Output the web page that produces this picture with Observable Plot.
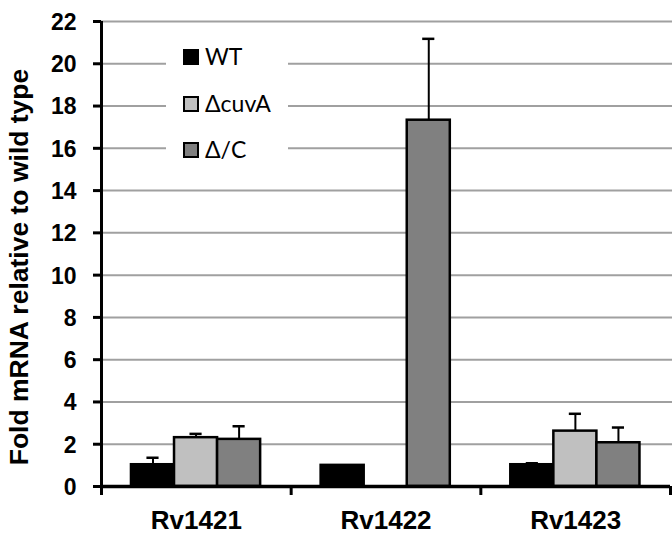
<!DOCTYPE html>
<html>
<head>
<meta charset="utf-8">
<script src="https://cdn.jsdelivr.net/npm/d3@7"></script>
<script src="https://cdn.jsdelivr.net/npm/@observablehq/plot@0.6"></script>
<style>
  html, body { margin: 0; padding: 0; background: #fff; }
  #wrap { position: relative; width: 672px; height: 534px; }
  #legend { position: absolute; left: 166px; top: 40px; width: 122px; height: 130px; background: #fff;
            font-family: Lato, "Open Sans", sans-serif; font-size: 23px; color: #000; }
  .item { position: absolute; left: 17px; height: 16px; }
  .sw { position: absolute; left: 0; top: 0; width: 16px; height: 16px; box-sizing: border-box; border: 2px solid #000; }
  .lab { position: absolute; left: 22px; top: -9px; white-space: nowrap; line-height: 32px; }
</style>
</head>
<body>
<div id="wrap"><div id="chart"></div><div id="legend"></div></div>
<script>
const genes = ["Rv1421", "Rv1422", "Rv1423"];
const seriesNames = ["WT", "\u0394cuvA", "\u0394/C"];
const seriesColors = ["#000000", "#c0c0c0", "#808080"];
const wtValues = [1.03, 1.0, 1.03];
const wtErrors = [0.33, 0, 0.07];
const cuvAValues = [2.31, null, 2.62];
const cuvAErrors = [0.18, null, 0.82];
const dcValues = [2.23, 17.33, 2.07];
const dcErrors = [0.62, 3.85, 0.72];
const yTicks = [0, 2, 4, 6, 8, 10, 12, 14, 16, 18, 20, 22];
const yTitle = "Fold mRNA relative to wild type";

const values = [wtValues, cuvAValues, dcValues];
const errors = [wtErrors, cuvAErrors, dcErrors];

// layout constants (fractions of a category band)
const OUTER = 0.158, BW = 0.227, CAP = 0.032;

const rows = [];
genes.forEach((g, gi) => {
  seriesNames.forEach((s, si) => {
    const v = values[si][gi];
    if (v == null) return;
    const x1 = gi + OUTER + si * BW;
    rows.push({gene: g, series: s, value: v, err: errors[si][gi], x1, x2: x1 + BW, xc: x1 + BW / 2});
  });
});
const errRows = rows.filter(d => d.err > 0);

const chart = Plot.plot({
  width: 672,
  height: 534,
  marginLeft: 101,
  marginRight: 2,
  marginTop: 21,
  marginBottom: 48,
  style: {background: "#fff", fontFamily: "'Liberation Sans', Arial, sans-serif", color: "#000", overflow: "visible"},
  x: {domain: [0, genes.length], axis: null},
  y: {domain: [0, 22], axis: null},
  color: {domain: seriesNames, range: seriesColors},
  marks: [
    Plot.ruleY(yTicks.filter(t => t > 0), {stroke: "#a0a0a0", strokeWidth: 2, insetRight: -2}),
    Plot.ruleX(errRows, {x: "xc", y1: "value", y2: d => d.value + d.err, stroke: "#000", strokeWidth: 2}),
    Plot.ruleY(errRows, {x1: d => d.xc - CAP, x2: d => d.xc + CAP, y: d => d.value + d.err, stroke: "#000", strokeWidth: 2.5}),
    Plot.rectY(rows, {x1: "x1", x2: "x2", y1: 0, y2: "value", fill: "series", stroke: "#000", strokeWidth: 2.5}),
    Plot.ruleX([0], {stroke: "#000", strokeWidth: 3}),
    Plot.ruleY([0], {stroke: "#000", strokeWidth: 3.5}),
    Plot.axisY({ticks: yTicks, tickSize: 8, strokeWidth: 3, tickFormat: () => "", label: null}),
    Plot.text(yTicks, {y: d => d, text: d => String(d), frameAnchor: "left", textAnchor: "end", lineAnchor: "middle",
                       dx: -25, dy: 1, fontSize: 23, fontWeight: "bold"}),
    Plot.axisX({ticks: d3.range(genes.length + 1), tickSize: 9, strokeWidth: 3, tickFormat: () => "", label: null}),
    Plot.axisX({ticks: genes.map((g, i) => i + 0.5), tickSize: 0, tickPadding: 24, fontSize: 26, fontWeight: "bold",
                tickFormat: v => genes[Math.floor(v)], label: null}),
    Plot.text([yTitle], {text: d => d, frameAnchor: "left", textAnchor: "middle", lineAnchor: "middle", rotate: -90, dx: -82, dy: 13, fontSize: 26.5, fontWeight: "bold"})
  ]
});
document.getElementById("chart").appendChild(chart);

const legend = document.getElementById("legend");
const rowTops = [9, 56, 102];
seriesNames.forEach((s, i) => {
  const it = document.createElement("div");
  it.className = "item";
  it.style.top = rowTops[i] + "px";
  it.innerHTML = `<div class="sw" style="background:${seriesColors[i]}"></div><div class="lab">${s}</div>`;
  legend.appendChild(it);
});
</script>
</body>
</html>
